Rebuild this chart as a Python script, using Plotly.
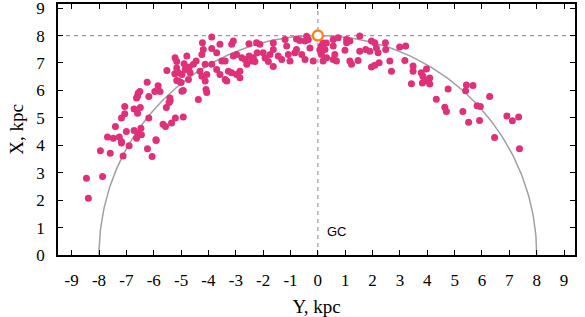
import numpy as np
import plotly.graph_objects as go

# Galactic coordinates of sources (Y horizontal, X vertical), kpc
pts = [
(-7.95,3.80),(-7.59,3.71),(-7.18,4.08),(-6.90,3.98),(-7.12,3.61),(-6.23,3.87),(-6.06,3.59),(-5.91,4.17),(-8.46,2.80),(-7.87,2.86),(-8.39,2.07),
(-7.69,4.30),(-7.48,4.26),(-7.26,4.30),(-7.18,4.14),(-7.40,4.68),(-7.00,4.50),(-7.18,4.99),(-7.06,5.15),(-7.06,5.41),(-6.72,5.32),(-6.59,5.17),(-6.49,5.38),(-6.63,5.72),(-6.57,5.90),(-6.51,5.96),(-6.59,5.80),(-6.24,6.30),(-6.18,5.78),(-6.18,4.99),(-6.72,4.54),(-6.57,4.42),(-6.63,4.26),(-6.47,4.62),(-6.45,4.38),(-5.92,4.20),(-5.96,5.96),(-5.84,6.17),(-5.77,5.96),(-5.52,6.73),(-5.23,6.61),(-5.16,7.05),(-5.16,6.36),(-5.41,5.72),(-5.54,5.38),(-5.66,4.77),(-5.57,4.68),(-5.21,4.99),(-5.35,4.81),
(-4.92,5.03),(-5.44,5.56),(-5.00,6.29),(-4.06,5.92),(-4.92,6.00),
(-4.22,7.74),(-3.88,7.95),(-3.88,7.53),(-3.58,7.68),(-3.70,7.37),(-4.19,7.49),(-4.24,7.31),(-3.09,7.80),(-3.15,7.68),(-2.52,7.70),(-2.24,7.74),(-3.09,7.25),(-2.97,7.31),(-2.78,7.19),(-2.66,7.13),(-2.51,7.25),(-2.36,7.19),(-2.22,7.37),(-2.60,6.95),(-2.42,7.07),(-5.22,7.19),(-4.79,7.25),(-4.89,6.97),(-5.16,6.82),(-5.10,6.64),(-4.97,6.58),(-4.85,6.76),(-4.70,6.85),(-4.55,6.95),(-4.45,7.07),(-4.67,6.64),(-4.73,6.40),(-5.10,6.34),(-4.31,6.70),(-4.24,6.52),(-4.12,6.95),(-4.06,6.58),(-4.12,6.34),(-3.88,6.95),(-3.70,6.76),(-3.51,7.07),(-3.39,7.07),(-3.27,6.70),(-3.15,6.64),(-2.97,6.58),(-2.85,6.70),(-3.58,6.58),(-3.39,6.40),(-3.33,6.34),(-2.85,6.46),(-4.97,5.97),(-4.09,6.03),(-4.37,5.67),(-5.40,5.62),
(-2.12,7.68),(-2.00,7.37),(-1.75,7.31),(-1.63,7.49),(-1.45,7.25),(-1.32,7.13),(-1.14,7.62),(-1.20,7.86),(-1.08,7.31),(-1.02,7.07),(-0.84,7.37),(-0.78,7.49),(-0.59,7.31),(-0.47,7.13),(-0.47,7.80),(-0.35,7.86),(-0.66,7.82),(-0.17,7.07),(-0.29,7.55),(0.13,7.62),(0.26,7.49),(0.13,7.31),(0.32,7.19),(0.19,7.07),
(-1.63,6.87),(-1.93,7.18),(-2.30,7.05),(-1.81,7.05),(-1.63,7.73),(-0.41,7.97),(-0.78,7.87),
(0.19,7.73),(0.31,7.73),(0.07,7.48),
(0.56,7.86),(0.74,7.92),(0.56,7.62),(0.62,7.31),(0.56,7.13),(0.68,7.07),
(1.05,7.86),(1.17,7.80),(1.05,7.74),(0.99,7.46),(1.53,7.98),(1.23,6.95),(1.17,7.07),(1.47,7.09),(1.53,7.43),(1.75,7.49),(1.90,7.43),(1.96,7.80),(2.08,7.74),(2.14,7.55),(2.20,7.37),(2.47,7.74),(2.48,7.49),(1.96,6.85),(2.08,6.92),(2.24,7.01),(2.63,7.07),(2.69,6.70),(2.99,7.58),(3.21,7.62),(3.18,7.09),(3.48,6.89),(3.48,6.70),(3.42,6.24),(3.78,6.64),(3.84,6.52),(3.91,6.34),(4.03,6.36),
(3.97,6.78),(4.09,6.45),(3.82,6.27),(4.09,6.23),(4.76,6.05),(4.33,5.68),(4.64,5.39),(4.70,5.23),(5.43,6.20),(5.67,6.18),(5.40,5.99),(6.28,5.78),(5.82,5.44),(5.94,5.41),(5.30,5.23),(5.51,4.84),(5.91,4.90),(6.46,4.28),(6.91,5.07),(7.11,4.89),(7.34,5.03),(7.37,3.87),
]
y_kpc = [p[0] for p in pts]
x_kpc = [p[1] for p in pts]

sun_y = [0]
sun_x = [8]
R0 = 8.0
x_ticks = list(range(-9, 10))
y_ticks = list(range(0, 10))

theta = np.linspace(0, np.pi, 200)
circ_y = R0 * np.cos(theta)
circ_x = R0 * np.sin(theta)

fig = go.Figure()
fig.add_trace(go.Scatter(x=circ_y, y=circ_x, mode="lines",
                         line=dict(color="#a0a0a0", width=1.5), hoverinfo="skip"))
fig.add_trace(go.Scatter(x=y_kpc, y=x_kpc, mode="markers",
                         marker=dict(color="#E0307A", size=7, line=dict(width=0))))
fig.add_trace(go.Scatter(x=sun_y, y=sun_x, mode="markers",
                         marker=dict(color="white", size=10, line=dict(color="#F5841F", width=2.5))))

fig.add_shape(type="line", xref="paper", yref="y", x0=0, x1=1, y0=R0, y1=R0,
              line=dict(color="#9a9a9a", width=1.2, dash="4px,4px"), layer="below")
fig.add_shape(type="line", xref="x", yref="paper", x0=0, x1=0, y0=0, y1=1,
              line=dict(color="#9a9a9a", width=1.2, dash="4px,4px"), layer="below")

fig.add_annotation(x=0.7, y=0.85, text="GC", showarrow=False,
                   font=dict(family="Liberation Sans", size=13, color="black"))

serif = "Liberation Serif"
fig.update_layout(
    width=585, height=317,
    margin=dict(l=58, r=10, t=4, b=62),
    plot_bgcolor="white", paper_bgcolor="white",
    showlegend=False,
    font=dict(family=serif, color="black"),
)
fig.update_xaxes(range=[-9.5, 9.4], tickvals=x_ticks, ticktext=[str(v) for v in x_ticks],
                 showgrid=False, zeroline=False, showline=True, linecolor="black", linewidth=1.5,
                 mirror="allticks", ticks="inside", ticklen=5, tickcolor="black",
                 tickfont=dict(family=serif, size=17), ticklabelstandoff=9, automargin=False,
                 ticklabeloverflow="allow",
                 title=dict(text="Y, kpc", font=dict(family=serif, size=19), standoff=11))
fig.update_yaxes(range=[0, 9.15], tickvals=y_ticks, ticktext=[str(v) for v in y_ticks],
                 showgrid=False, zeroline=False, showline=True, linecolor="black", linewidth=1.5,
                 mirror="allticks", ticks="inside", ticklen=5, tickcolor="black",
                 tickfont=dict(family=serif, size=17), ticklabelstandoff=8, automargin=False,
                 ticklabeloverflow="allow",
                 title=dict(text="X, kpc", font=dict(family=serif, size=19), standoff=8))

fig.write_html("out.html", config={"displayModeBar": False},
               post_script="document.body.style.margin='0';document.body.style.overflow='hidden';")
